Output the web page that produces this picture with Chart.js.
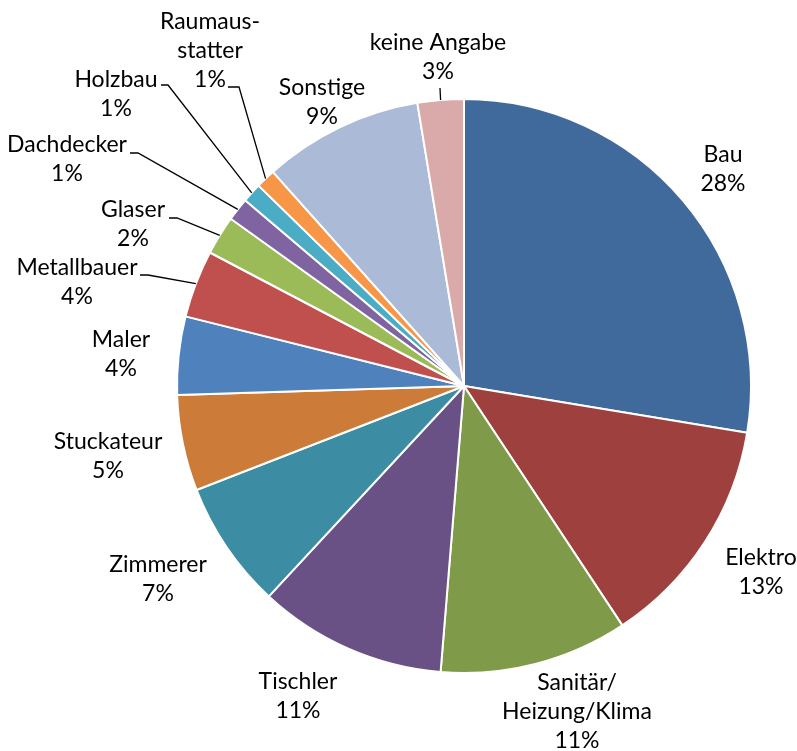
<!DOCTYPE html>
<html lang="de">
<head>
<meta charset="UTF-8">
<title>Gewerke</title>
<script src="https://cdn.jsdelivr.net/npm/chart.js"></script>
<style>
    body { margin: 0; background: #fff; }
    #box { width: 797px; height: 751px; position: relative; }
</style>
</head>
<body>
<div id="box">
    <canvas id="kuchen"></canvas>
</div>
<script>
    // Gewerke und Anteile (in %)
    var gewerke = ['Bau', 'Elektro', 'Sanitär/\nHeizung/Klima', 'Tischler', 'Zimmerer', 'Stuckateur',
        'Maler', 'Metallbauer', 'Glaser', 'Dachdecker', 'Holzbau', 'Raumaus-\nstatter', 'Sonstige', 'keine Angabe'];
    var anteile = [27.6, 13.1, 10.6, 10.6, 7.2, 5.4, 4.4, 3.8, 2.2, 1.3, 1.1, 1.1, 9.0, 2.6];
    var farben = ['#416A9C', '#9E413E', '#7F9A48', '#695185', '#3C8DA3', '#CC7B38', '#4F81BD',
        '#C0504D', '#9BBB59', '#8064A2', '#4BACC6', '#F79646', '#AABAD7', '#D9AAA9'];

    // Position der Beschriftungen (Mitte der ersten Zeile)
    var labelPos = [
        [723, 155], [761, 558], [577, 683], [298, 682], [158, 565], [108, 442], [121, 340],
        [77, 268], [133, 210], [67, 145], [116, 80], [210, 22], [322, 88], [438, 43]
    ];
    // Führungslinien: Index -> [x Start, x Knick, y]
    var fuehrung = {
        7: [140, 148, 275],
        8: [169, 177, 218],
        9: [130, 138, 153],
        10: [161, 168, 85],
        11: [228, 239, 87],
        13: [440, 440, 88]
    };

    var summe = anteile.reduce(function (a, b) { return a + b; }, 0);

    var beschriftung = {
        id: 'beschriftung',
        afterDraw: function (chart) {
            var ctx = chart.ctx;
            var arcs = chart.getDatasetMeta(0).data;
            ctx.save();

            // Führungslinien
            ctx.strokeStyle = '#000';
            ctx.lineWidth = 1.3;
            Object.keys(fuehrung).forEach(function (k) {
                var arc = arcs[k];
                var f = fuehrung[k];
                var mid = (arc.startAngle + arc.endAngle) / 2;
                var ex = arc.x + Math.cos(mid) * arc.outerRadius;
                var ey = arc.y + Math.sin(mid) * arc.outerRadius;
                ctx.beginPath();
                ctx.moveTo(f[0], f[2]);
                ctx.lineTo(f[1], f[2]);
                ctx.lineTo(ex, ey);
                ctx.stroke();
            });

            // Texte
            ctx.fillStyle = '#000';
            ctx.font = '23px Lato';
            ctx.textAlign = 'center';
            ctx.textBaseline = 'middle';
            for (var i = 0; i < gewerke.length; i++) {
                var zeilen = gewerke[i].split('\n');
                zeilen.push(Math.round(anteile[i] / summe * 100) + '%');
                for (var z = 0; z < zeilen.length; z++) {
                    ctx.fillText(zeilen[z], labelPos[i][0], labelPos[i][1] + z * 29);
                }
            }
            ctx.restore();
        }
    };

    new Chart(document.getElementById('kuchen'), {
        type: 'pie',
        data: {
            labels: gewerke,
            datasets: [{
                data: anteile,
                backgroundColor: farben,
                borderColor: '#fff',
                borderWidth: 2,
                radius: 287
            }]
        },
        options: {
            responsive: true,
            maintainAspectRatio: false,
            animation: false,
            layout: { padding: { left: 131, right: 0, top: 21, bottom: 0 } },
            plugins: {
                legend: { display: false },
                tooltip: { enabled: false }
            }
        },
        plugins: [beschriftung]
    });
</script>
</body>
</html>
